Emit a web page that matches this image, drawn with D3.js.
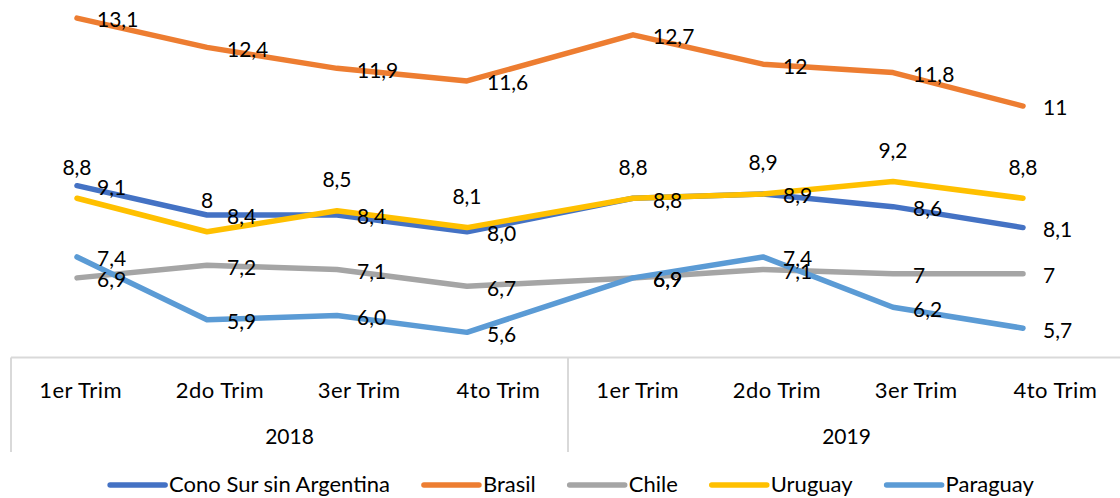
<!DOCTYPE html>
<html>
<head>
<meta charset="utf-8">
<script src="https://cdn.jsdelivr.net/npm/d3@7"></script>
<style>
  html, body { margin: 0; padding: 0; background: #fff; }
  svg { display: block; }
  text { font-family: Lato, "Open Sans", sans-serif; fill: #000; }
</style>
</head>
<body>
<div id="chart"></div>
<script>
// ---- Data ----
const years = ["2018", "2019"];
const quarters = ["1er Trim", "2do Trim", "3er Trim", "4to Trim"];
const seriesNames = ["Cono Sur sin Argentina", "Brasil", "Chile", "Uruguay", "Paraguay"];
const seriesColors = ["#4472C4", "#ED7D31", "#A5A5A5", "#FFC000", "#5B9BD5"];
const conoSur  = [9.1, 8.4, 8.4, 8.0, 8.8, 8.9, 8.6, 8.1];
const brasil   = [13.1, 12.4, 11.9, 11.6, 12.7, 12.0, 11.8, 11.0];
const chile    = [6.9, 7.2, 7.1, 6.7, 6.9, 7.1, 7.0, 7.0];
const uruguay  = [8.8, 8.0, 8.5, 8.1, 8.8, 8.9, 9.2, 8.8];
const paraguay = [7.4, 5.9, 6.0, 5.6, 6.9, 7.4, 6.2, 5.7];
const seriesValues = [conoSur, brasil, chile, uruguay, paraguay];
const labelFixedDecimals = [true, false, false, false, true];
const labelPlacement = ["right", "right", "right", "above", "right"];

// ---- Layout ----
const W = 1120, H = 498;
const svg = d3.select("#chart").append("svg").attr("width", W).attr("height", H);

const y = d3.scaleLinear().domain([5, 14]).range([357.5, 357.5 - 9 * 41.905]);

// plotting positions of points
const xYear = d3.scaleBand().domain(years).range([77, 1023]).paddingInner(0.2986).paddingOuter(0);
const xQuarter = d3.scalePoint().domain(quarters).range([0, xYear.bandwidth()]);
const xPoint = i => xYear(years[Math.floor(i / 4)]) + xQuarter(quarters[i % 4]);

// axis category bands
const axisYear = d3.scaleBand().domain(years).range([11, 1125]);
const axisQuarter = d3.scaleBand().domain(quarters).range([0, axisYear.bandwidth()]);

const fmt = (v, fixed) => (fixed ? d3.format(".1f")(v) : String(+v.toFixed(1))).replace(".", ",");

// ---- Axis ----
const axisG = svg.append("g");
axisG.append("line").attr("x1", 11).attr("x2", W).attr("y1", y(5)).attr("y2", y(5))
  .attr("stroke", "#D9D9D9").attr("stroke-width", 2);
years.forEach(yr => {
  axisG.append("line").attr("x1", axisYear(yr)).attr("x2", axisYear(yr))
    .attr("y1", y(5)).attr("y2", 452).attr("stroke", "#D9D9D9").attr("stroke-width", 2);
  quarters.forEach(q => {
    axisG.append("text").attr("x", axisYear(yr) + axisQuarter(q) + axisQuarter.bandwidth() / 2)
      .attr("y", 390).attr("dy", "0.35em").attr("text-anchor", "middle")
      .attr("font-size", 22).attr("letter-spacing", 0.5).text(q);
  });
  axisG.append("text").attr("x", axisYear(yr) + axisYear.bandwidth() / 2)
    .attr("y", 437).attr("dy", "0.35em").attr("text-anchor", "middle")
    .attr("font-size", 21).text(yr);
});

// ---- Lines ----
const line = d3.line().x((d, i) => xPoint(i)).y(d => y(d));
seriesValues.forEach((vals, s) => {
  svg.append("path").datum(vals).attr("d", line)
    .attr("fill", "none").attr("stroke", seriesColors[s]).attr("stroke-width", 5.5)
    .attr("stroke-linejoin", "round").attr("stroke-linecap", "round");
});

// ---- Labels ----
seriesValues.forEach((vals, s) => {
  vals.forEach((v, i) => {
    const t = svg.append("text").attr("font-size", 21).attr("dy", "0.35em")
      .text(fmt(v, labelFixedDecimals[s]));
    if (labelPlacement[s] === "above") {
      t.attr("x", xPoint(i)).attr("y", y(v) - 31).attr("text-anchor", "middle");
    } else {
      t.attr("x", xPoint(i) + 20).attr("y", y(v) + 2).attr("text-anchor", "start");
    }
  });
});

// ---- Legend ----
const legend = svg.append("g");
const items = seriesNames.map((name, s) => {
  const g = legend.append("g");
  g.append("line").attr("x1", 0).attr("x2", 55).attr("y1", 0).attr("y2", 0)
    .attr("stroke", seriesColors[s]).attr("stroke-width", 5.5).attr("stroke-linecap", "round");
  const t = g.append("text").attr("x", 59).attr("y", 0).attr("dy", "0.33em")
    .attr("font-size", 22).text(name);
  return { g, w: 59 + t.node().getComputedTextLength() };
});
const gap = 34;
const total = d3.sum(items, d => d.w) + gap * (items.length - 1);
let cx = 572 - total / 2;
items.forEach(it => { it.g.attr("transform", `translate(${cx},485)`); cx += it.w + gap; });
</script>
</body>
</html>
